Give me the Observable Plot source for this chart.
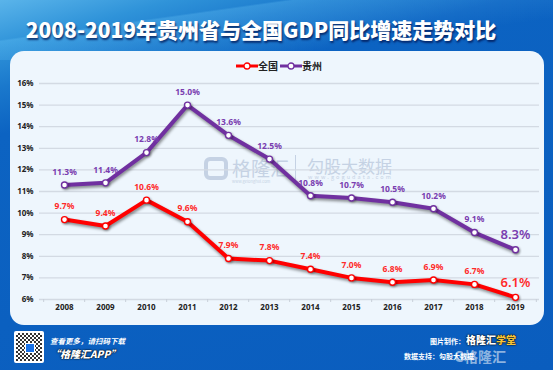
<!DOCTYPE html>
<html>
<head>
<meta charset="utf-8">
<script src="https://cdn.jsdelivr.net/npm/d3@7"></script>
<script src="https://cdn.jsdelivr.net/npm/@observablehq/plot@0.6"></script>
<style>
  body { margin: 0; }
  #page { position: relative; width: 553px; height: 370px; overflow: hidden;
    background: linear-gradient(165deg, #5ab4ea 0%, #2f93d9 9%, #1a78cc 17%, #0c63c2 26%, #0a5dbe 100%);
    font-family: "Noto Sans CJK SC", "Noto Sans", sans-serif; }
  #stripe { position:absolute; left:-40px; top:-30px; width:700px; height:90px;
    background: linear-gradient(172deg, rgba(255,255,255,0) 40%, rgba(120,210,255,0.25) 41%, rgba(120,210,255,0.0) 70%); }
  #title { position: absolute; left: 20px; top: 14px; width: 482px; text-align: center;
    color: #fff; font-size: 21px; font-weight: 900; letter-spacing: 0px; white-space: nowrap;
    text-shadow: 1px 2px 2px rgba(0,20,80,0.75); }
  #panel { position: absolute; left: 10px; top: 51px; width: 534px; height: 274px;
    background: #eef6fd; border-radius: 14px; }
  #chart { position: absolute; left: 0; top: 51px; width: 553px; }
  .wm { position: absolute; color: #c5d2e4; white-space: nowrap; line-height: 1; }
  #legend { position: absolute; top: 61px; left: 236px; font-size: 10px; line-height: 1; color: #222;
    font-weight: 700; display: flex; align-items: center; font-family: "Noto Sans CJK SC"; }
  #legend span { margin-right: 2px; }
  .foot { position: absolute; color: #fff; white-space: nowrap; }
</style>
</head>
<body>
<div id="page">
  <div id="stripe"></div>
  <div id="title">2008-2019年贵州省与全国GDP同比增速走势对比</div>
  <div id="panel"></div>
  <div class="wm" style="left:204px;top:157px;width:24px;height:23px;border:4px solid #c5d2e4;border-radius:6px;box-sizing:border-box;"></div>
  <div class="wm" style="left:232px;top:158px;font-size:19px;">格隆汇</div>
  <div class="wm" style="left:232px;top:179px;font-size:4px;">www.gelonghui.com</div>
  <div class="wm" style="left:295px;top:155px;width:1px;height:30px;background:#c5d2e4;"></div>
  <div class="wm" style="left:307px;top:157px;font-size:17px;">勾股大数据</div>
  <div class="wm" style="left:308px;top:175px;font-size:5.5px;letter-spacing:2.1px;">www.gogudata.com</div>
  <div id="chart"></div>
  <div id="legend">
    <svg width="22" height="10"><line x1="0" y1="5" x2="22" y2="5" stroke="#ff0000" stroke-width="3"/><circle cx="11" cy="5" r="3" fill="#fff" stroke="#ff0000" stroke-width="1.3"/></svg>
    <span>全国</span>
    <svg width="22" height="10"><line x1="0" y1="5" x2="22" y2="5" stroke="#7030a0" stroke-width="3"/><circle cx="11" cy="5" r="3" fill="#fff" stroke="#7030a0" stroke-width="1.3"/></svg>
    <span>贵州</span>
  </div>
  <div class="foot" style="left:14px;top:331px;width:30px;height:32px;background:#fff;border-radius:2px;"></div>
  <div class="foot" style="left:16px;top:333px;width:26px;height:28px;background:repeating-conic-gradient(#333 0 25%, #fff 0 50%) 0 0/4px 4px;"></div>
  <div class="foot" style="left:25px;top:343px;width:8px;height:8px;background:#1a73e8;border:1px solid #fff;"></div>
  <div class="foot" style="left:50px;top:335px;font-size:7.5px;font-style:italic;font-weight:700;">查看更多，请扫码下载</div>
  <div class="foot" style="left:50px;top:346px;font-size:10px;font-style:italic;font-weight:900;text-shadow:0 0 2px #000,0 0 1px #000;">“格隆汇APP”</div>
  <div class="foot" style="left:430px;top:336px;font-size:7px;font-weight:700;">图片制作：</div>
  <div class="foot" style="left:466px;top:332px;font-size:10px;font-weight:900;text-shadow:0 0 2px #000,0 0 1px #000;">格隆汇<span style="color:#f6c63a">学堂</span></div>
  <div class="foot" style="left:404px;top:351px;font-size:7px;font-weight:700;">数据支持：勾股大数据</div>
  <div class="foot" style="left:454px;top:346px;font-size:14px;font-weight:700;color:rgba(255,255,255,0.55);">G格隆汇</div>
</div>
<script>
const years = ["2008","2009","2010","2011","2012","2013","2014","2015","2016","2017","2018","2019"];
const national = [9.7, 9.4, 10.6, 9.6, 7.9, 7.8, 7.4, 7.0, 6.8, 6.9, 6.7, 6.1];
const guizhou = [11.3, 11.4, 12.8, 15.0, 13.6, 12.5, 10.8, 10.7, 10.5, 10.2, 9.1, 8.3];
const yTicks = [6, 7, 8, 9, 10, 11, 12, 13, 14, 15, 16];
const seriesNames = ["全国", "贵州"];
const seriesColors = ["#ff0000", "#7030a0"];
const labelColors = ["#ff2a2a", "#7a3db0"];

const rows = [];
[national, guizhou].forEach((vals, s) => {
  vals.forEach((v, i) => rows.push({series: seriesNames[s], year: years[i], value: v, last: i === years.length - 1}));
});

const W = 553, H = 274, mL = 39, mR = 14;
const step = (W - mL - mR) / years.length;

const marks = [
  Plot.ruleY(yTicks, {stroke: "#d3dae3", strokeWidth: 1.3}),
  Plot.ruleX(years, {x: d => d, y1: 6, y2: 6, insetBottom: -3, dx: -step / 2, stroke: "#c9d0da"}),
  Plot.ruleX([years[years.length - 1]], {x: d => d, y1: 6, y2: 6, insetBottom: -3, dx: step / 2, stroke: "#c9d0da"})
];
seriesNames.forEach((name, s) => {
  const d = rows.filter(r => r.series === name);
  marks.push(
    Plot.line(d, {x: "year", y: "value", stroke: seriesColors[s], strokeWidth: 4, strokeLinejoin: "round", strokeLinecap: "round"}),
    Plot.dot(d, {x: "year", y: "value", r: 3, fill: "#fff", stroke: seriesColors[s], strokeWidth: 1.4}),
    Plot.text(d.filter(r => !r.last), {x: "year", y: "value", text: r => r.value.toFixed(1) + "%", dy: -13, fill: labelColors[s], fontSize: 8.5, fontWeight: "bold"}),
    Plot.text(d.filter(r => r.last), {x: "year", y: "value", text: r => r.value.toFixed(1) + "%", dy: -15, fill: labelColors[s], fontSize: 13, fontWeight: 600})
  );
});

const chart = Plot.plot({
  width: W, height: H,
  marginLeft: mL, marginRight: mR, marginTop: 32, marginBottom: 26,
  style: {background: "transparent", fontFamily: "'Noto Sans', 'DejaVu Sans', sans-serif", overflow: "visible"},
  x: {type: "point", domain: years, padding: 0.5, label: null, tickSize: 0, tickPadding: 5},
  y: {domain: [6, 16], ticks: yTicks, tickFormat: d => d + "%", tickSize: 0, tickPadding: 6, label: null},
  marks
});
d3.select(chart).selectAll("g[aria-label='x-axis tick label'] text, g[aria-label='y-axis tick label'] text, g[aria-label='x-axis tick label'], g[aria-label='y-axis tick label']")
  .attr("font-weight", "bold").attr("font-size", 8).attr("fill", "#222");
d3.select(chart).selectAll("g[aria-label='line'] path").style("filter", "drop-shadow(1.5px 2px 1.5px rgba(0,0,0,0.45))");
d3.select(chart).selectAll("g[aria-label='dot'] circle").style("filter", "drop-shadow(1px 1px 1px rgba(0,0,0,0.35))");
document.getElementById("chart").appendChild(chart);
</script>
</body>
</html>
